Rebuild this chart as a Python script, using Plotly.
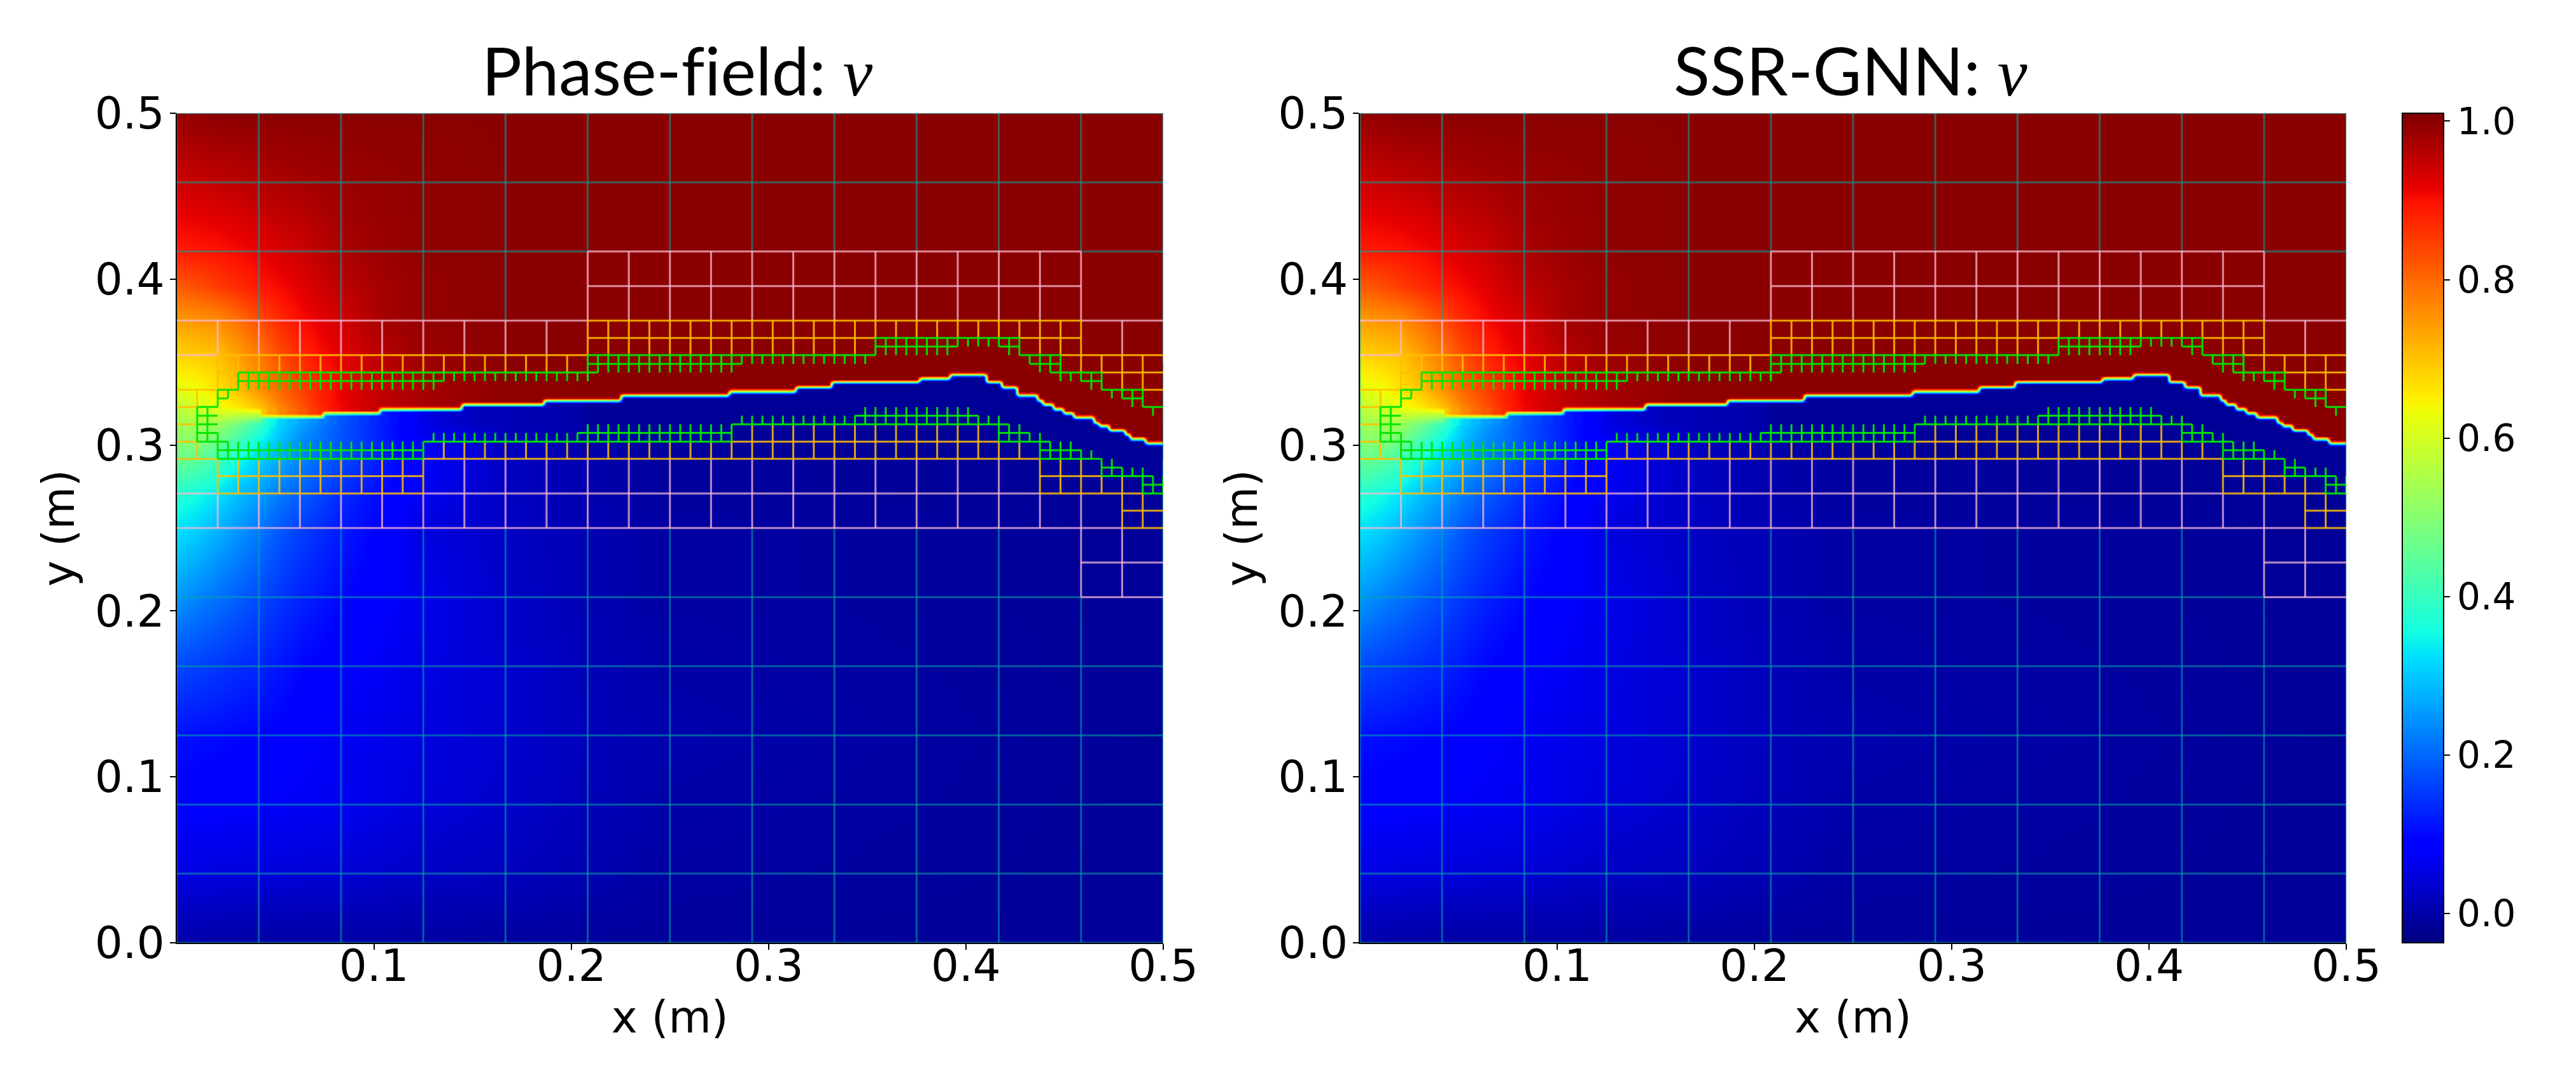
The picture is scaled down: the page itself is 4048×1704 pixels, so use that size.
import numpy as np
import plotly.graph_objects as go
from plotly.subplots import make_subplots

W, H = 4048, 1704
U = 0.5 / 96  # finest mesh cell, all mesh and field positions below are in these units

titles = ["Phase-field: ", "SSR-GNN: "]
x_ticks = [0.1, 0.2, 0.3, 0.4, 0.5]
y_ticks = [0.0, 0.1, 0.2, 0.3, 0.4, 0.5]
cbar_ticks = [0.0, 0.2, 0.4, 0.6, 0.8, 1.0]

jet = [[0, "rgb(0,0,127)"], [0.11, "rgb(0,0,255)"], [0.125, "rgb(0,0,255)"],
       [0.34, "rgb(0,219,255)"], [0.35, "rgb(0,229,247)"], [0.375, "rgb(20,255,226)"],
       [0.64, "rgb(238,255,8)"], [0.65, "rgb(247,245,0)"], [0.66, "rgb(255,236,0)"],
       [0.89, "rgb(255,19,0)"], [0.91, "rgb(232,0,0)"], [1, "rgb(127,0,0)"]]

# smooth field v
field_i = [0, 2, 4, 6, 8, 10, 12, 14, 16, 20, 24, 32, 40, 48, 96]
field_j = [0, 8, 16, 24, 32, 40, 48, 52, 56, 58, 60, 62, 64, 66, 68, 72, 76, 80, 88, 96]
field_v = [
    [0.0, 0.0, -0.002, -0.002, -0.005, -0.005, -0.005, -0.005, -0.005, -0.005, -0.005, -0.008, -0.01, -0.012, -0.015],
    [0.05, 0.05, 0.048, 0.046, 0.045, 0.044, 0.042, 0.04, 0.04, 0.033, 0.026, 0.02, 0.008, -0.005, -0.015],
    [0.085, 0.082, 0.08, 0.078, 0.075, 0.072, 0.07, 0.068, 0.065, 0.055, 0.045, 0.03, 0.015, 0.0, -0.015],
    [0.11, 0.107, 0.103, 0.098, 0.095, 0.088, 0.08, 0.075, 0.07, 0.06, 0.05, 0.035, 0.017, 0.005, -0.015],
    [0.17, 0.16, 0.15, 0.14, 0.13, 0.115, 0.1, 0.09, 0.08, 0.07, 0.055, 0.035, 0.015, 0.0, -0.015],
    [0.25, 0.23, 0.21, 0.19, 0.17, 0.15, 0.13, 0.115, 0.1, 0.08, 0.06, 0.03, 0.01, -0.005, -0.015],
    [0.33, 0.31, 0.28, 0.25, 0.22, 0.185, 0.16, 0.14, 0.12, 0.09, 0.05, 0.025, 0.01, -0.005, -0.015],
    [0.38, 0.36, 0.33, 0.29, 0.26, 0.22, 0.19, 0.165, 0.14, 0.1, 0.065, 0.025, 0.005, -0.01, -0.015],
    [0.47, 0.45, 0.41, 0.36, 0.31, 0.27, 0.23, 0.2, 0.17, 0.12, 0.075, 0.025, 0.005, -0.01, -0.015],
    [0.5, 0.5, 0.47, 0.41, 0.35, 0.29, 0.24, 0.21, 0.18, 0.125, 0.07, 0.02, 0.0, -0.01, -0.015],
    [0.53, 0.54, 0.53, 0.47, 0.4, 0.31, 0.26, 0.22, 0.18, 0.12, 0.055, 0.015, 0.0, -0.01, -0.015],
    [0.57, 0.6, 0.63, 0.66, 0.7, 0.77, 0.82, 0.875, 0.91, 0.955, 0.975, 0.995, 1.0, 1.0, 1.0],
    [0.62, 0.63, 0.665, 0.7, 0.75, 0.8, 0.84, 0.88, 0.915, 0.95, 0.975, 0.995, 1.0, 1.0, 1.0],
    [0.65, 0.66, 0.68, 0.72, 0.765, 0.81, 0.855, 0.885, 0.91, 0.955, 0.98, 1.0, 1.0, 1.0, 1.0],
    [0.68, 0.69, 0.7, 0.74, 0.78, 0.83, 0.87, 0.9, 0.92, 0.96, 0.985, 1.0, 1.0, 1.0, 1.0],
    [0.74, 0.75, 0.76, 0.79, 0.83, 0.87, 0.9, 0.92, 0.935, 0.975, 0.99, 1.0, 1.0, 1.0, 1.0],
    [0.815, 0.83, 0.85, 0.87, 0.89, 0.905, 0.92, 0.94, 0.955, 0.975, 0.99, 1.0, 1.0, 1.0, 1.0],
    [0.885, 0.89, 0.895, 0.905, 0.915, 0.93, 0.94, 0.955, 0.97, 0.985, 0.995, 1.0, 1.0, 1.0, 1.0],
    [0.94, 0.945, 0.95, 0.955, 0.965, 0.97, 0.975, 0.98, 0.985, 0.99, 0.995, 1.0, 1.0, 1.0, 1.0],
    [0.99, 0.995, 1.0, 1.0, 1.0, 1.0, 1.0, 1.0, 1.0, 1.0, 1.0, 1.0, 1.0, 1.0, 1.0],
]

# crack: step profile, each j holds from its i up to the next i
crack_i = [8.2, 14.2, 19.6, 27.8, 35.7, 43.3, 54, 60.4, 63.8, 72.3, 75.5, 78.8, 80.5, 81.9,
           83.8, 84.5, 85.5, 86.5, 87.5, 89.1, 89.8, 90.9, 92.1, 93, 94.4]
crack_j = [60.9, 61.3, 61.75, 62.3, 62.75, 63.35, 63.8, 64.3, 64.9, 65.3, 65.74, 64.9, 64.27, 63.36,
           62.75, 62.3, 61.76, 61.27, 60.8, 60.17, 59.8, 59.3, 58.8, 58.3, 57.8]
# values just above and below the crack for i = 8 .. 40
above_crack = [0.7, 0.735, 0.77, 0.795, 0.82, 0.85, 0.875, 0.895, 0.91, 0.92, 0.935, 0.945, 0.955, 0.96, 0.965, 0.97, 0.975,
               0.98, 0.982, 0.985, 0.987, 0.99, 0.995, 0.995, 0.995, 0.996, 0.997, 0.998, 0.998, 0.999, 0.999, 1.0, 1.0]
below_crack = [0.4, 0.35, 0.31, 0.285, 0.26, 0.24, 0.22, 0.2, 0.18, 0.165, 0.15, 0.135, 0.12, 0.105, 0.09, 0.07, 0.055,
               0.045, 0.04, 0.03, 0.025, 0.02, 0.015, 0.015, 0.015, 0.012, 0.01, 0.008, 0.006, 0.004, 0.002, 0.0, -0.015]
# part of the picture each crack column repaints: first i, lowest j, highest j
crack_windows = [(8, 60, 62), (20, 60, 64), (54, 56, 67)]
crack_blur = 0.3  # half width of the rainbow edge, in mesh units

# mesh segments: horizontals are (j, i0, i1), verticals are ([i, ...], j0, j1)
teal_h = [(96, 0, 96), (88, 0, 96), (80, 0, 40), (80, 88, 96), (40, 0, 88), (32, 0, 96), (24, 0, 96),
          (16, 0, 96), (8, 0, 96), (0, 0, 96)]
teal_v = [([0, 96], 0, 96), ([8, 16, 24, 32], 72, 96), ([40, 48, 56, 64, 72, 80, 88], 80, 96),
          ([8, 16, 24, 32, 40, 48, 56, 64, 72, 80], 0, 48), ([88], 0, 40)]
pink_h = [(72, 0, 40), (72, 88, 96), (80, 40, 88), (76, 40, 88), (68, 0, 4), (52, 0, 4), (52, 24, 84),
          (48, 0, 92), (44, 88, 96), (40, 88, 96)]
pink_v = [(list(range(4, 40, 4)), 68, 72), (list(range(40, 92, 4)), 72, 80),
          (list(range(4, 88, 4)), 48, 52), (list(range(28, 84, 4)), 52, 56),
          ([88], 40, 52), ([92], 68, 72), ([92], 40, 48)]
orange_h = [(72, 40, 88), (70, 40, 68), (70, 82, 88), (68, 4, 40), (68, 86, 96), (66, 4, 6), (66, 90, 96),
            (64, 0, 4), (64, 94, 96), (62, 0, 2), (60, 0, 2), (58, 0, 2), (58, 54, 80), (56, 0, 4),
            (56, 24, 84), (54, 4, 24), (54, 84, 90), (52, 4, 24), (52, 84, 94), (50, 92, 96), (48, 92, 96)]
orange_v = [(list(range(4, 40, 2)), 66, 68), ([4], 64, 66), ([2], 62, 64), ([2], 56, 58), (list(range(4, 26, 2)), 52, 56),
            (list(range(26, 84, 2)), 56, 58), (list(range(56, 80, 2)), 58, 60), (list(range(40, 68, 2)), 68, 72),
            (list(range(68, 90, 2)), 70, 72), ([84, 86, 88], 68, 70), ([88], 66, 68), ([90], 66, 68),
            ([92, 94], 64, 68), ([84, 86, 88], 52, 56), ([90], 52, 54), ([92], 48, 54), ([94], 48, 52)]
green_h = [(66, 6, 41), (65, 6, 26), (64, 4, 6), (63, 4, 5), (62, 2, 4), (61, 2, 4), (60, 2, 4), (59, 2, 4),
           (58, 2, 5), (57, 4, 24), (56, 4, 24), (58, 24, 54), (59, 39, 54), (68, 40, 68), (67, 40, 55),
           (70, 68, 82), (69, 68, 76), (69, 80, 82), (68, 82, 86), (67, 83, 86), (66, 85, 90), (65, 88, 90),
           (64, 90, 94), (63, 92, 94), (62, 94, 96), (60, 54, 81), (61, 66, 78), (59, 80, 83), (58, 80, 85),
           (57, 84, 88), (56, 84, 90), (55, 90, 92), (54, 90, 95), (53, 94, 96), (52, 94, 96)]
green_v = [(list(range(6, 26)), 64, 66), (list(range(26, 41)), 65, 66), ([5], 63, 64), ([4], 62, 64), ([2, 3], 58, 62),
           ([4], 56, 59), (list(range(5, 25)), 56, 58), (list(range(25, 40)), 58, 59), (list(range(40, 55)), 58, 60),
           (list(range(55, 67)), 60, 61), (list(range(67, 78)), 60, 62), ([78, 79], 60, 61), ([80], 58, 61),
           ([81, 82], 58, 60), ([83], 58, 59), ([84], 56, 59), ([85, 86, 87], 56, 58), ([88, 89], 56, 57),
           ([90, 91], 54, 56), ([92, 93], 54, 55), ([94], 52, 55), ([95, 96], 52, 54), (list(range(41, 55)), 66, 68),
           ([40], 65, 68), (list(range(55, 68)), 67, 68), (list(range(68, 76)), 68, 70), (list(range(76, 81)), 69, 70),
           ([81, 82], 68, 70), ([83], 67, 68), ([84, 85], 66, 68), ([86], 65, 68), ([87, 88], 65, 66), ([89, 90], 64, 66),
           ([91, 92], 63, 64), ([93, 94], 62, 64), ([95], 61, 62)]

mesh_styles = [(teal_h, teal_v, "rgba(0,170,160,0.55)"), (pink_h, pink_v, "rgba(250,185,210,0.75)"),
               (orange_h, orange_v, "rgba(255,190,0,0.85)"), (green_h, green_v, "rgba(0,230,0,0.95)")]


def mesh_lines(hs, vs):
    xs, ys = [], []
    for j, i0, i1 in hs:
        xs += [i0 * U, i1 * U, None]
        ys += [j * U, j * U, None]
    for iis, j0, j1 in vs:
        for i in iis:
            xs += [i * U, i * U, None]
            ys += [j0 * U, j1 * U, None]
    return xs, ys


def crack_band():
    # one column every half cell, looked up from the crack profile and the two lists above
    cols = np.arange(8.5, 96.5, 0.5)
    rows = np.arange(56, 67.01, 0.2)
    z = np.full((len(rows), len(cols)), np.nan)
    for c, i in enumerate(cols):
        cj = crack_j[max(np.searchsorted(crack_i, i, side="right") - 1, 0)]
        k = min(int(i) - 8, len(above_crack) - 1)
        lo, hi = [w[1:] for w in crack_windows if i >= w[0]][-1]
        for r, j in enumerate(rows):
            if j < lo - 0.01 or j > hi + 0.01:
                continue
            frac = np.clip((j - cj + crack_blur) / (2 * crack_blur), 0, 1)
            z[r, c] = below_crack[k] + frac * (above_crack[k] - below_crack[k])
    return cols * U, rows * U, z


fig = make_subplots(rows=1, cols=2)
band_x, band_y, band_z = crack_band()
for col in [1, 2]:
    fig.add_trace(go.Heatmap(x=[i * U for i in field_i], y=[j * U for j in field_j], z=field_v,
                             coloraxis="coloraxis", zsmooth="best", hoverinfo="skip"), row=1, col=col)
    fig.add_trace(go.Heatmap(x=band_x, y=band_y, z=band_z, coloraxis="coloraxis",
                             zsmooth="best", hoverinfo="skip"), row=1, col=col)
    for hs, vs, color in mesh_styles:
        xs, ys = mesh_lines(hs, vs)
        fig.add_trace(go.Scatter(x=xs, y=ys, mode="lines", line=dict(color=color, width=3),
                                 hoverinfo="skip", showlegend=False), row=1, col=col)

tick_font = dict(family="DejaVu Sans", size=69, color="black")
axis_common = dict(ticks="outside", ticklen=9, tickwidth=2, tickcolor="black", tickfont=tick_font, automargin=False,
                   showgrid=False, zeroline=False, showline=True, linecolor="black", linewidth=2)
for n, left, right in [("", 277.5, 1828), ("2", 2137, 3687)]:
    fig.update_layout({
        "xaxis" + n: dict(domain=[left / W, right / W], range=[0, 0.5], tickvals=x_ticks, tickformat=".1f",
                          ticklabelstandoff=-34, title=dict(text="x (m)", font=tick_font, standoff=18), **axis_common),
        "yaxis" + n: dict(domain=[(H - 1482) / H, (H - 178) / H], range=[0, 0.5], tickvals=y_ticks, tickformat=".1f",
                          ticklabelstandoff=-6, title=dict(text="y (m)", font=tick_font, standoff=10), **axis_common),
    })

title_font = dict(family="Lato", size=105, color="black")
for text, cx in zip(titles, [1064, 2908]):
    fig.add_annotation(x=cx / W, y=(H - 110) / H, xref="paper", yref="paper", showarrow=False, font=title_font,
                       xanchor="center", yanchor="middle",
                       text=f'<span style="font-variant-ligatures:none">{text}</span>'
                            '<span style="font-family:Liberation Serif"><i>v</i></span>')

fig.update_layout(
    width=W, height=H, margin=dict(l=0, r=0, t=0, b=0), paper_bgcolor="white", plot_bgcolor="white",
    showlegend=False,
    coloraxis=dict(cmin=-0.037, cmax=1.01, colorscale=jet, colorbar=dict(
        x=3775 / W, xanchor="left", y=(H - 1482) / H, yanchor="bottom", len=1304 / H, lenmode="fraction",
        thickness=65, thicknessmode="pixels", ypad=0, xpad=0, tickvals=cbar_ticks, tickformat=".1f",
        ticks="outside", ticklen=9, tickwidth=2, tickcolor="black", outlinecolor="black", outlinewidth=2,
        tickfont=dict(family="DejaVu Sans", size=58, color="black"))),
)

fig.write_html("out.html", config={"displayModeBar": False},
               post_script="document.body.style.margin='0';document.documentElement.style.overflow='hidden';")
